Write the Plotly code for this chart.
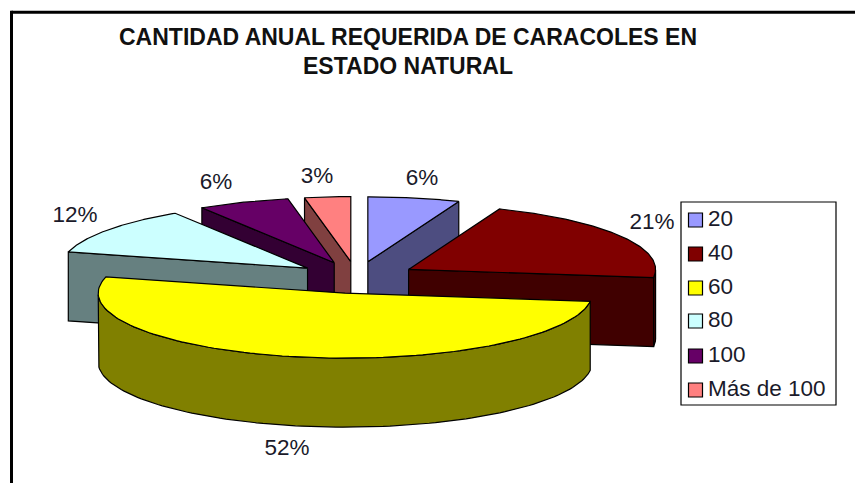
import numpy as np
import plotly.graph_objects as go

# ---- data ----
categories = ["20", "40", "60", "80", "100", "Más de 100"]
percentages = [6, 21, 52, 12, 6, 3]
title_lines = ["CANTIDAD ANUAL REQUERIDA DE CARACOLES EN", "ESTADO NATURAL"]

# ---- style ----
top_colors = ["#9999FF", "#800000", "#FFFF00", "#CCFFFF", "#660066", "#FF8080"]
side_colors = ["#4D4D80", "#400000", "#808000", "#668080", "#330033", "#804040"]
FONT = "Liberation Sans, Arial, sans-serif"

# ---- geometry of the tilted pie (axes run in image pixels) ----
W, H = 855, 483
CX, CY = 356.5, 277.5
RX, RY = 247, 65
EXPLODE = 0.245
DEPTH = 69
label_pos = [(422, 179), (652, 223), (287, 449), (75, 216), (216, 183), (317, 177)]
legend_box = (681, 202, 836, 405)
legend_x, legend_text_x = 695.5, 708
legend_rows = [220, 254, 288, 321, 356, 390]

values = np.array(percentages, dtype=float)
edges = np.concatenate([[0], np.cumsum(values)]) / values.sum() * 2 * np.pi


def px_point(ax, ay, t):
    return ax + RX * np.sin(t), ay - RY * np.cos(t)


fig = go.Figure()


def poly(xs, ys, color):
    fig.add_trace(go.Scatter(
        x=list(xs), y=list(ys), mode="lines", fill="toself", fillcolor=color,
        line=dict(color="black", width=1.2), hoverinfo="skip", showlegend=False))


# back slices first, the yellow front slice last
for i in [0, 5, 4, 3, 1, 2]:
    a0, a1 = edges[i], edges[i + 1]
    mid = (a0 + a1) / 2
    ax = CX + EXPLODE * RX * np.sin(mid)
    ay = CY - EXPLODE * RY * np.cos(mid)
    t = np.linspace(a0, a1, 120)
    ox, oy = px_point(ax, ay, t)

    # radial side faces that look towards the viewer
    for e, visible in ((a0, np.sin(a0) < -1e-9), (a1, np.sin(a1) > 1e-9)):
        if visible:
            ex, ey = px_point(ax, ay, e)
            poly([ax, ex, ex, ax, ax], [ay, ey, ey + DEPTH, ay + DEPTH, ay], side_colors[i])
    # outer wall (only the part that faces the viewer)
    front = np.cos(t) < 0
    if front.any():
        fx, fy = ox[front], oy[front]
        poly(np.r_[fx, fx[::-1], fx[0]], np.r_[fy, fy[::-1] + DEPTH, fy[0]], side_colors[i])
    # top face
    poly(np.r_[ax, ox, ax], np.r_[ay, oy, ay], top_colors[i])

# percentage labels
fig.add_trace(go.Scatter(
    x=[p[0] for p in label_pos], y=[p[1] for p in label_pos], mode="text",
    text=[f"{v}%" for v in percentages], textposition="middle center",
    textfont=dict(family=FONT, size=22.5, color="#1a1a2a"),
    hoverinfo="skip", showlegend=False))

# legend entries
for cat, col, row in zip(categories, top_colors, legend_rows):
    fig.add_trace(go.Scatter(
        x=[legend_x], y=[row], mode="markers",
        marker=dict(symbol="square", size=14, color=col, line=dict(color="black", width=1.2)),
        hoverinfo="skip", showlegend=False))
    fig.add_trace(go.Scatter(
        x=[legend_text_x], y=[row], mode="text", text=[cat],
        textposition="middle right",
        textfont=dict(family=FONT, size=22.5, color="#1a1a2a"),
        hoverinfo="skip", showlegend=False))

shapes = [
    dict(type="rect", x0=legend_box[0], y0=legend_box[1], x1=legend_box[2], y1=legend_box[3],
         line=dict(color="black", width=1.2), fillcolor="white", layer="below"),
    dict(type="line", x0=11.5, y0=12.3, x1=W, y1=12.3, line=dict(color="black", width=3)),
    dict(type="line", x0=11.5, y0=10.8, x1=11.5, y1=H, line=dict(color="black", width=3)),
]

annotations = [
    dict(x=407.5, y=36.5, text=f"<b>{title_lines[0]}</b>", showarrow=False, xanchor="center", yanchor="middle",
         font=dict(family=FONT, size=23, color="#111111")),
    dict(x=407.5, y=66, text=f"<b>{title_lines[1]}</b>", showarrow=False, xanchor="center", yanchor="middle",
         font=dict(family=FONT, size=23, color="#111111")),
]

fig.update_layout(
    width=W, height=H, margin=dict(l=0, r=0, t=0, b=0),
    paper_bgcolor="white", plot_bgcolor="white",
    xaxis=dict(range=[0, W], visible=False, fixedrange=True),
    yaxis=dict(range=[H, 0], visible=False, fixedrange=True),
    shapes=shapes, annotations=annotations, showlegend=False,
)
fig.write_html("out.html", config={"displayModeBar": False},
               post_script="document.body.style.margin='0';document.body.style.overflow='hidden';")
